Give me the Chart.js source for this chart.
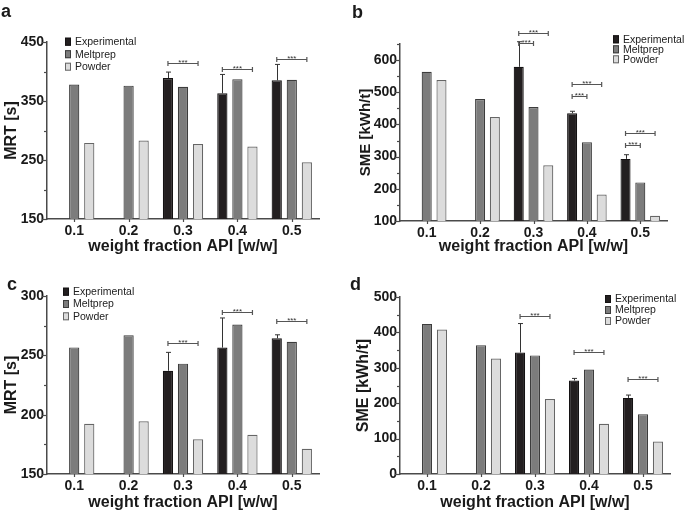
<!DOCTYPE html>
<html><head><meta charset="utf-8">
<script src="https://cdn.jsdelivr.net/npm/chart.js@4.4.0/dist/chart.umd.min.js"></script>
<style>
html,body{margin:0;padding:0;background:#fff;width:685px;height:511px;overflow:hidden;position:relative}
canvas{position:absolute}
</style></head><body>
<canvas id="ca" width="342" height="255" style="left:0;top:0;width:342px;height:255px"></canvas>
<canvas id="cb" width="343" height="255" style="left:342px;top:0;width:343px;height:255px"></canvas>
<canvas id="cc" width="342" height="256" style="left:0;top:255px;width:342px;height:256px"></canvas>
<canvas id="cd" width="343" height="256" style="left:342px;top:255px;width:343px;height:256px"></canvas>
<script>
const categories = ['0.1','0.2','0.3','0.4','0.5'];
const seriesNames = ['Experimental','Meltprep','Powder'];
const xTitle = 'weight fraction API [w/w]';

// panel a: MRT [s]
const aExperimental    = [null, null, 389, 363, 385];
const aExperimentalErr = [null, null, 10, 32, 27];
const aMeltprep        = [378, 376, 374, 387, 386];
const aPowder          = [279, 283, 277, 273, 246];
// [category index, from series, to series, y value]
const aBrackets = [[2,0,2,414],[3,0,2,404],[4,0,2,421]];

// panel b: SME [kWh/t]
const bExperimental    = [null, null, 579, 435, 293];
const bExperimentalErr = [null, null, 78, 6, 13];
const bMeltprep        = [564, 479, 454, 345, 220];
const bPowder          = [538, 423, 273, 182, 116];
const bBrackets = [[2,0,2,684],[2,0,1,653],[3,0,2,527],[3,0,1,487],[4,0,2,375],[4,0,1,336]];

// panel c: MRT [s]
const cExperimental    = [null, null, 237, 256.5, 264.3];
const cExperimentalErr = [null, null, 15.5, 25, 3];
const cMeltprep        = [256.7, 267, 243, 276, 261.5];
const cPowder          = [192.4, 194.4, 179.2, 183, 171.3];
const cBrackets = [[2,0,2,260],[3,0,2,286.5],[4,0,2,279]];

// panel d: SME [kWh/t]
const dExperimental    = [null, null, 343, 264, 215];
const dExperimentalErr = [null, null, 82, 6, 8];
const dMeltprep        = [424, 364, 335, 295, 169];
const dPowder          = [408, 326, 212, 142, 92];
const dBrackets = [[2,0,2,447],[3,0,2,344],[4,0,2,267]];

const FONT = '"Liberation Sans", Arial, Helvetica, sans-serif';
const AXIS = '#4a4a4a';
const INK = '#1a1a1a';
const fills   = ['#231f20', '#7c7c7c', '#dcdcdc'];
const borders = ['#141213', '#3c3c3c', '#666666'];

const deco = {
  id: 'deco',
  afterDraw(chart) {
    const o = chart.options.plugins.deco;
    const ctx = chart.ctx;
    const ys = chart.scales.y, xs = chart.scales.x;
    const ca = chart.chartArea;
    ctx.save();
    // y tick marks (major and minor)
    ctx.strokeStyle = AXIS; ctx.lineWidth = 1.2;
    ys.ticks.forEach(t => {
      const py = Math.round(ys.getPixelForValue(t.value)) + 0.5;
      const r = Math.abs((t.value - o.labelBase) % o.labelStep);
      const major = r < 1e-6 || Math.abs(r - o.labelStep) < 1e-6;
      const len = major ? 5 : 3;
      ctx.beginPath(); ctx.moveTo(ca.left - len, py); ctx.lineTo(ca.left, py); ctx.stroke();
    });
    // x tick marks
    categories.forEach((c, i) => {
      const px = Math.round(xs.getPixelForValue(i)) + 0.5;
      ctx.beginPath(); ctx.moveTo(px, ca.bottom); ctx.lineTo(px, ca.bottom + 3); ctx.stroke();
    });
    // error bars (upper only)
    const meta0 = chart.getDatasetMeta(0);
    const vals = chart.data.datasets[0].data;
    ctx.strokeStyle = '#333'; ctx.lineWidth = 1;
    o.errors.forEach((e, i) => {
      if (e == null || vals[i] == null) return;
      const el = meta0.data[i];
      const px = Math.round(el.x) + 0.5;
      const top = ys.getPixelForValue(vals[i] + e);
      ctx.beginPath();
      ctx.moveTo(px, el.y); ctx.lineTo(px, top);
      ctx.moveTo(px - 2.5, top); ctx.lineTo(px + 2.5, top);
      ctx.stroke();
    });
    // significance brackets
    ctx.strokeStyle = '#555'; ctx.lineWidth = 1.2;
    ctx.fillStyle = '#333';
    ctx.font = '8px ' + FONT;
    ctx.textAlign = 'center'; ctx.textBaseline = 'alphabetic';
    o.brackets.forEach(b => {
      const x1 = chart.getDatasetMeta(b[1]).data[b[0]].x;
      const x2 = chart.getDatasetMeta(b[2]).data[b[0]].x;
      const py = Math.round(ys.getPixelForValue(b[3])) + 0.5;
      ctx.beginPath();
      ctx.moveTo(x1, py); ctx.lineTo(x2, py);
      ctx.moveTo(x1, py - 2.5); ctx.lineTo(x1, py + 2.5);
      ctx.moveTo(x2, py - 2.5); ctx.lineTo(x2, py + 2.5);
      ctx.stroke();
      ctx.fillText('***', (x1 + x2) / 2, py + 1.5);
    });
    // legend
    const L = o.legend;
    ctx.font = '10.5px ' + FONT;
    ctx.textAlign = 'left'; ctx.textBaseline = 'middle';
    chart.data.datasets.forEach((ds, i) => {
      const cy = L.y + i * L.gap;
      ctx.fillStyle = ds.backgroundColor;
      ctx.fillRect(L.x, cy - 4, 6, 8);
      ctx.strokeStyle = ds.borderColor; ctx.lineWidth = 1;
      ctx.strokeRect(L.x + 0.5, cy - 3.5, 5, 7);
      ctx.fillStyle = '#222';
      ctx.fillText(ds.label, L.x + 10, cy + 0.5);
    });
    // panel letter
    ctx.font = 'bold 18px ' + FONT;
    ctx.fillStyle = INK; ctx.textBaseline = 'alphabetic';
    ctx.fillText(o.letter.t, o.letter.x, o.letter.y);
    ctx.restore();
  }
};

function makeChart(id, p) {
  const datasets = [p.exp, p.melt, p.pow].map((d, i) => ({
    label: seriesNames[i], data: d,
    backgroundColor: fills[i], borderColor: borders[i], borderWidth: 1.2,
    borderSkipped: 'start',
    categoryPercentage: 0.83, barPercentage: 0.68
  }));
  const isMajor = v => {
    const r = Math.abs((v - p.labelBase) % p.labelStep);
    return r < 1e-6 || Math.abs(r - p.labelStep) < 1e-6;
  };
  return new Chart(document.getElementById(id), {
    type: 'bar',
    data: { labels: categories, datasets },
    plugins: [deco],
    options: {
      responsive: false, animation: false,
      layout: { padding: p.pad },
      plugins: {
        legend: { display: false }, tooltip: { enabled: false },
        deco: { errors: p.err, brackets: p.brackets, legend: p.legend, letter: p.letter,
                labelBase: p.labelBase, labelStep: p.labelStep }
      },
      scales: {
        x: {
          grid: { display: false, drawTicks: false },
          border: { display: true, color: AXIS, width: 1.5 },
          ticks: { color: INK, padding: 4, font: { family: FONT, size: 14, weight: 'bold' } },
          title: { display: true, text: xTitle, color: INK,
                   font: { family: FONT, size: 16, weight: 'bold', lineHeight: 1 },
                   padding: { top: 0, bottom: p.xTitlePad } },
          afterFit: s => { s.height = p.xH; }
        },
        y: {
          min: p.min, max: p.max,
          grid: { display: false, drawTicks: false },
          border: { display: true, color: AXIS, width: 1.5 },
          ticks: { stepSize: p.step, autoSkip: false, color: INK, padding: 3,
                   font: { family: FONT, size: 14, weight: 'bold' },
                   callback: v => isMajor(v) ? String(v) : '' },
          title: { display: true, text: p.yTitle, color: INK,
                   font: { family: FONT, size: p.yTitleSize, weight: 'bold', lineHeight: 1 },
                   padding: { top: p.yTitlePad, bottom: 0 } },
          afterFit: s => { s.width = p.yW; }
        }
      }
    }
  });
}

makeChart('ca', {
  exp: aExperimental, melt: aMeltprep, pow: aPowder, err: aExperimentalErr, brackets: aBrackets,
  min: 150, max: 450, step: 50, labelBase: 150, labelStep: 100,
  yTitle: 'MRT [s]', yTitleSize: 16, yTitlePad: 4, xTitlePad: 0,
  pad: { left: 0, right: 23, top: 42, bottom: 0 }, yW: 47, xH: 36,
  legend: { x: 65, y: 41.7, gap: 12.5 }, letter: { t: 'a', x: 1, y: 17 }
});
makeChart('cb', {
  exp: bExperimental, melt: bMeltprep, pow: bPowder, err: bExperimentalErr, brackets: bBrackets,
  min: 100, max: 650, step: 50, labelBase: 100, labelStep: 100,
  yTitle: 'SME [kWh/t]', yTitleSize: 15, yTitlePad: 16, xTitlePad: 0,
  pad: { left: 0, right: 18, top: 44, bottom: 0 }, yW: 58, xH: 34,
  legend: { x: 271, y: 39.3, gap: 10 }, letter: { t: 'b', x: 10, y: 18 }
});
makeChart('cc', {
  exp: cExperimental, melt: cMeltprep, pow: cPowder, err: cExperimentalErr, brackets: cBrackets,
  min: 150, max: 300, step: 25, labelBase: 150, labelStep: 50,
  yTitle: 'MRT [s]', yTitleSize: 16, yTitlePad: 4, xTitlePad: 0,
  pad: { left: 0, right: 23, top: 41, bottom: 0 }, yW: 47, xH: 37,
  legend: { x: 63, y: 36.7, gap: 12.3 }, letter: { t: 'c', x: 7, y: 35 }
});
makeChart('cd', {
  exp: dExperimental, melt: dMeltprep, pow: dPowder, err: dExperimentalErr, brackets: dBrackets,
  min: 0, max: 500, step: 50, labelBase: 0, labelStep: 100,
  yTitle: 'SME [kWh/t]', yTitleSize: 16, yTitlePad: 14, xTitlePad: 0,
  pad: { left: 0, right: 15, top: 42, bottom: 0 }, yW: 58, xH: 37,
  legend: { x: 263, y: 44, gap: 11 }, letter: { t: 'd', x: 8, y: 35 }
});
</script>
</body></html>
